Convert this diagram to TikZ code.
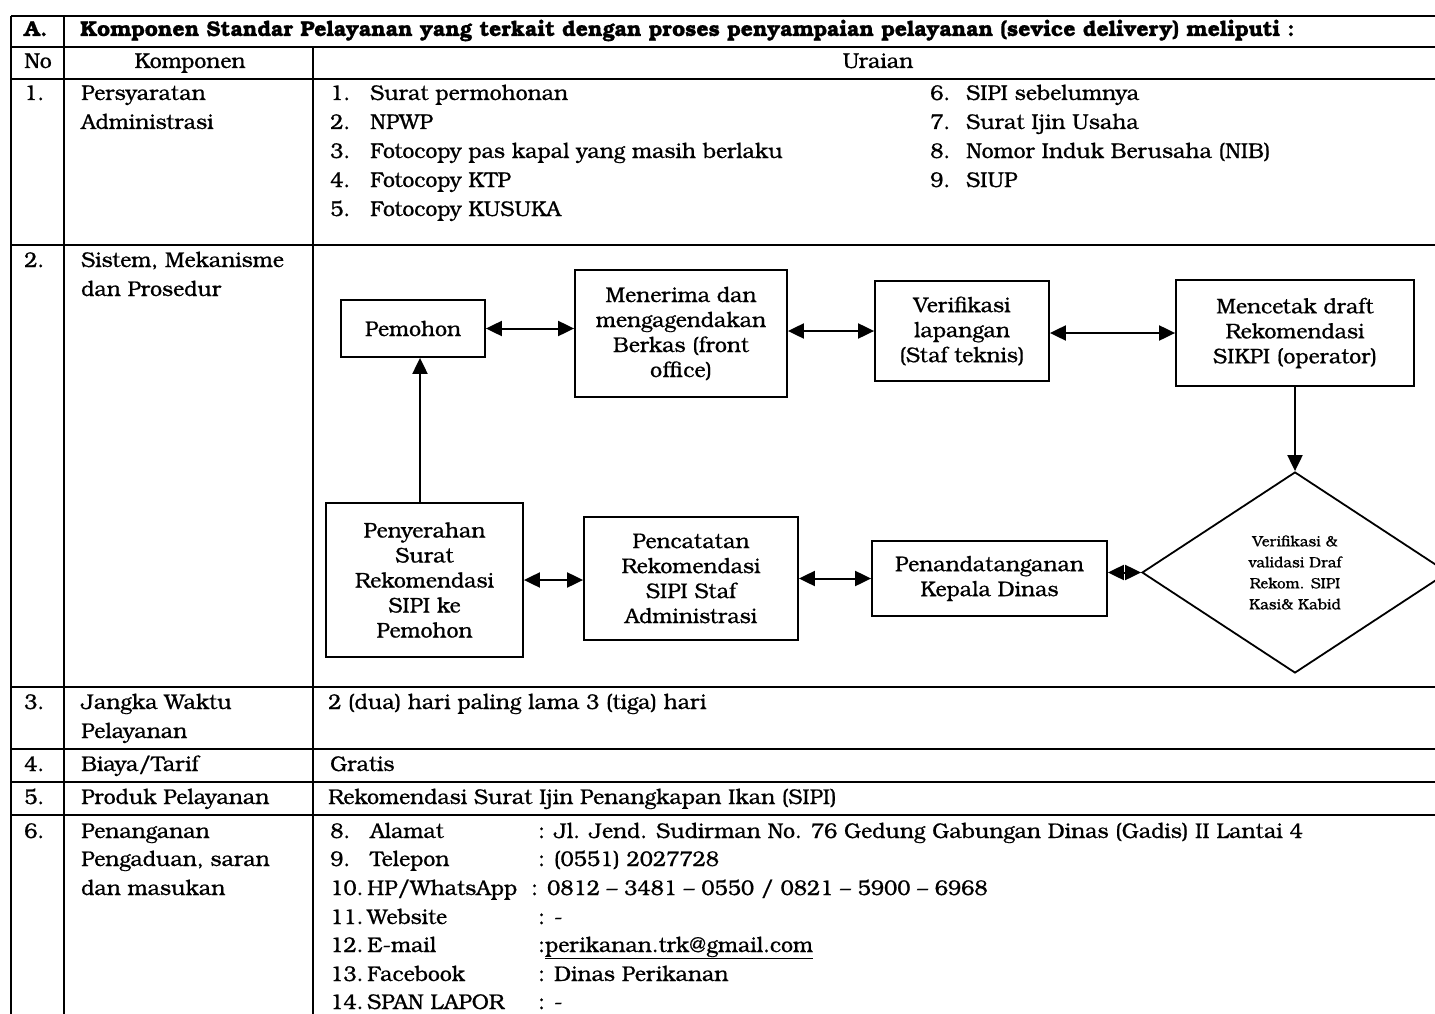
\documentclass[tikz,border=0pt]{standalone}
\usepackage{fontspec}
\setmainfont{TeX Gyre Bonum}[FakeBold=0.7]
\usetikzlibrary{arrows.meta,shapes.geometric}
\tikzset{
  tline/.style={line width=1.8pt},
  txt/.style={anchor=base west, inner sep=0pt, font=\fontsize{21.3}{25}\selectfont},
  ctxt/.style={anchor=base, inner sep=0pt, font=\fontsize{21.3}{25}\selectfont},
  hdr/.style={anchor=base west, inner sep=0pt, font=\fontsize{21.3}{24}\selectfont\bfseries},
  box/.style={draw, line width=1.8pt, align=center, inner sep=0pt, font=\fontsize{21.3}{25}\selectfont},
  decbox/.style={draw, shape=diamond, line width=1.8pt, align=center, inner sep=0pt, font=\fontsize{15}{21}\selectfont},
  link/.style={line width=2pt, {Triangle[length=16pt,width=15pt]}-{Triangle[length=16pt,width=15pt]}},
  flow/.style={line width=2pt, -{Triangle[length=16pt,width=15pt]}},
}
\begin{document}
\begin{tikzpicture}[x=1pt,y=-1pt]
\fill[white] (0,0) rectangle (1435,1014);
\useasboundingbox (0,0) rectangle (1435,1014);
% table grid
\draw[tline] (11,16) -- (1443,16);
\draw[tline] (11,47) -- (1443,47);
\draw[tline] (11,79) -- (1443,79);
\draw[tline] (11,245) -- (1443,245);
\draw[tline] (11,687) -- (1443,687);
\draw[tline] (11,749) -- (1443,749);
\draw[tline] (11,782) -- (1443,782);
\draw[tline] (11,815) -- (1443,815);
\draw[tline] (11,16) -- (11,1030);
\draw[tline] (64,16) -- (64,1030);
\draw[tline] (313,47) -- (313,1030);
\draw[tline] (1443,16) -- (1443,1030);
% header
\node[hdr] (hA) at (24,36) {A.};
\node[hdr] (hT) at (80,36) {Komponen Standar Pelayanan yang terkait dengan proses penyampaian pelayanan (sevice delivery) meliputi :};
\node[ctxt] (hNo) at (38,68) {No};
\node[ctxt] (hKomp) at (190,68) {Komponen};
\node[ctxt] (hUr) at (878,68) {Uraian};
% row 1
\node[txt] (n1) at (24,100) {1.};
\node[txt] (k1a) at (81,100) {Persyaratan};
\node[txt] (k1b) at (81,129) {Administrasi};
\node[txt] (l1n) at (330,100) {1.};
\node[txt] (l1t) at (370,100) {Surat permohonan};
\node[txt] (l2n) at (330,129) {2.};
\node[txt] (l2t) at (370,129) {NPWP};
\node[txt] (l3n) at (330,158) {3.};
\node[txt] (l3t) at (370,158) {Fotocopy pas kapal yang masih berlaku};
\node[txt] (l4n) at (330,187) {4.};
\node[txt] (l4t) at (370,187) {Fotocopy KTP};
\node[txt] (l5n) at (330,216) {5.};
\node[txt] (l5t) at (370,216) {Fotocopy KUSUKA};
\node[txt] (l6n) at (930,100) {6.};
\node[txt] (l6t) at (966,100) {SIPI sebelumnya};
\node[txt] (l7n) at (930,129) {7.};
\node[txt] (l7t) at (966,129) {Surat Ijin Usaha};
\node[txt] (l8n) at (930,158) {8.};
\node[txt] (l8t) at (966,158) {Nomor Induk Berusaha (NIB)};
\node[txt] (l9n) at (930,187) {9.};
\node[txt] (l9t) at (966,187) {SIUP};
% row 2
\node[txt] (n2) at (24,267) {2.};
\node[txt] (k2a) at (81,267) {Sistem, Mekanisme};
\node[txt] (k2b) at (81,296) {dan Prosedur};
% flow chart
\node[box, minimum width=144pt, minimum height=57pt] (pemohon) at (413,328.5) {Pemohon};
\node[box, minimum width=212pt, minimum height=127pt] (terima) at (681,333.5) {Menerima dan\\mengagendakan\\Berkas (front\\office)};
\node[box, minimum width=174pt, minimum height=100pt] (verif) at (962,331) {Verifikasi\\lapangan\\(Staf teknis)};
\node[box, minimum width=238pt, minimum height=106pt] (cetak) at (1295,333) {Mencetak draft\\Rekomendasi\\SIKPI (operator)};
\node[decbox, minimum width=306pt, minimum height=201pt] (dec) at (1295,572.5) {Verifikasi \&\\validasi Draf\\Rekom. SIPI\\Kasi\& Kabid};
\node[box, minimum width=235pt, minimum height=75pt] (ttd) at (989.5,578.5) {Penandatanganan\\Kepala Dinas};
\node[box, minimum width=214pt, minimum height=123pt] (catat) at (691,578.5) {Pencatatan\\Rekomendasi\\SIPI Staf\\Administrasi};
\node[box, minimum width=197pt, minimum height=154pt] (serah) at (424.5,580) {Penyerahan\\Surat\\Rekomendasi\\SIPI ke\\Pemohon};
\coordinate (ux) at (420,0);
\draw[link] (pemohon.east) -- (pemohon.east -| terima.west);
\draw[link] (verif.west -| terima.east) -- (verif.west);
\draw[link] (cetak.west -| verif.east) -- (cetak.west);
\draw[flow] (cetak.south) -- (dec.north);
\draw[link] (dec.west -| ttd.east) -- (dec.west);
\draw[link] (catat.east) -- (catat.east -| ttd.west);
\draw[link] (serah.east) -- (serah.east -| catat.west);
\draw[flow] (serah.north -| ux) -- (pemohon.south -| ux);
% row 3
\node[txt] (n3) at (24,709) {3.};
\node[txt] (k3a) at (81,709) {Jangka Waktu};
\node[txt] (k3b) at (81,738) {Pelayanan};
\node[txt] (u3) at (328,709) {2 (dua) hari paling lama 3 (tiga) hari};
% row 4
\node[txt] (n4) at (24,771) {4.};
\node[txt] (k4) at (81,771) {Biaya/Tarif};
\node[txt] (u4) at (330,771) {Gratis};
% row 5
\node[txt] (n5) at (24,804) {5.};
\node[txt] (k5) at (81,804) {Produk Pelayanan};
\node[txt] (u5) at (328,804) {Rekomendasi Surat Ijin Penangkapan Ikan (SIPI)};
% row 6
\node[txt] (n6) at (24,838) {6.};
\node[txt] (k6a) at (81,838) {Penanganan};
\node[txt] (k6b) at (81,866) {Pengaduan, saran};
\node[txt] (k6c) at (81,895) {dan masukan};
\node[txt] (c8n) at (330,838) {8.};
\node[txt] (c8t) at (370,838) {Alamat};
\node[txt] (c8v) at (538,838) {: Jl. Jend. Sudirman No. 76 Gedung Gabungan Dinas (Gadis) II Lantai 4};
\node[txt] (c9n) at (330,866) {9.};
\node[txt] (c9t) at (370,866) {Telepon};
\node[txt] (c9v) at (538,866) {: (0551) 2027728};
\node[txt] (c10n) at (330,895) {10.};
\node[txt] (c10t) at (367,895) {HP/WhatsApp};
\node[txt] (c10v) at (531,895) {: 0812 – 3481 – 0550 / 0821 – 5900 – 6968};
\node[txt] (c11n) at (330,924) {11.};
\node[txt] (c11t) at (367,924) {Website};
\node[txt] (c11v) at (538,924) {: -};
\node[txt] (c12n) at (330,952) {12.};
\node[txt] (c12t) at (367,952) {E-mail};
\node[txt] (c12v) at (538,952) {:\underline{perikanan.trk@gmail.com}};
\node[txt] (c13n) at (330,981) {13.};
\node[txt] (c13t) at (367,981) {Facebook};
\node[txt] (c13v) at (538,981) {: Dinas Perikanan};
\node[txt] (c14n) at (330,1009) {14.};
\node[txt] (c14t) at (367,1009) {SPAN LAPOR};
\node[txt] (c14v) at (538,1009) {: -};
\end{tikzpicture}
\end{document}
